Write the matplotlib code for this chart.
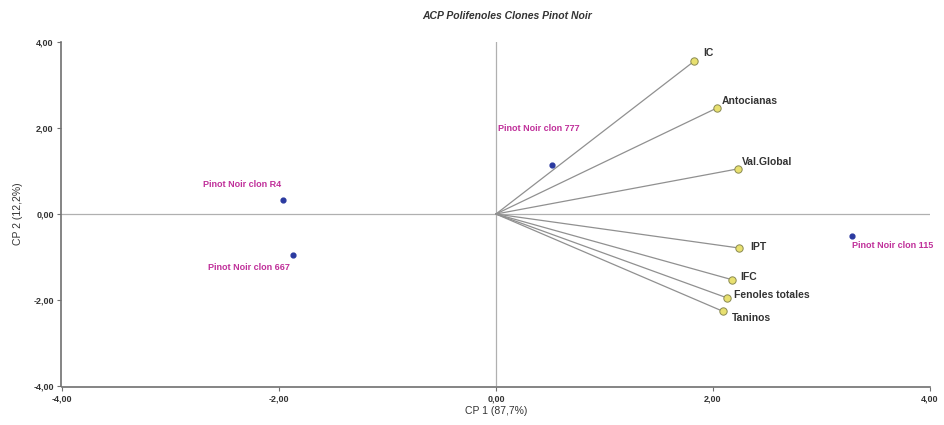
import matplotlib
matplotlib.use("Agg")
import matplotlib.pyplot as plt

# Variable loadings (vectors)
var_names = ["IC", "Antocianas", "Val.Global", "IPT", "IFC", "Fenoles totales", "Taninos"]
var_x = [1.83, 2.04, 2.23, 2.24, 2.18, 2.13, 2.09]
var_y = [3.56, 2.47, 1.05, -0.79, -1.53, -1.95, -2.26]

# Clone scores
clone_names = ["Pinot Noir clon 777", "Pinot Noir clon R4", "Pinot Noir clon 667", "Pinot Noir clon 115"]
clone_x = [0.52, -1.96, -1.87, 3.28]
clone_y = [1.14, 0.33, -0.95, -0.51]

ticks = [-4, -2, 0, 2, 4]
tick_labels = ["-4,00", "-2,00", "0,00", "2,00", "4,00"]

plt.rcParams['font.family'] = ['Liberation Sans', 'DejaVu Sans']
fig = plt.figure(figsize=(9.44, 4.25), dpi=100)
ax = fig.add_axes([0.0657, 0.0918, 0.9193, 0.8092])
ax.set_xlim(-4, 4)
ax.set_ylim(-4, 4)

ax.axhline(0, color="#b0b0b0", lw=0.9, zorder=1)
ax.axvline(0, color="#b0b0b0", lw=0.9, zorder=1)

for x, y in zip(var_x, var_y):
    ax.plot([0, x], [0, y], color="#909090", lw=0.9, zorder=2)
ax.scatter(var_x, var_y, s=28, facecolor="#e8e070", edgecolor="#8a8a50", linewidth=0.7, zorder=3)

var_offsets = [(6, 6), (3, 5), (3, 5), (8, 1), (6, 2), (5, 2), (7, -5)]
for n, x, y, off in zip(var_names, var_x, var_y, var_offsets):
    ax.annotate(n, (x, y), xytext=off, textcoords="offset points", fontsize=7.5,
                fontweight="bold", color="#333333", ha="left", va="center")

ax.scatter(clone_x, clone_y, s=12, color="#2b3aa0", zorder=3)
clone_offsets = [(-10, 26), (-30, 11), (-32, -9), (0, -7)]
clone_ha = ["center", "center", "center", "left"]
for n, x, y, off, ha in zip(clone_names, clone_x, clone_y, clone_offsets, clone_ha):
    ax.annotate(n, (x, y), xytext=off, textcoords="offset points", fontsize=6.5,
                fontweight="bold", color="#c0309a", ha=ha, va="center")

for s in ["top", "right"]:
    ax.spines[s].set_visible(False)
for s in ["left", "bottom"]:
    ax.spines[s].set_color("#707070")
    ax.spines[s].set_linewidth(1.2)
ax.spines["left"].set_position(("outward", 1))
ax.spines["bottom"].set_position(("outward", 1))

ax.set_xticks(ticks)
ax.set_xticklabels(tick_labels)
ax.set_yticks(ticks)
ax.set_yticklabels(tick_labels)
ax.tick_params(labelsize=6.5, length=3, color="#707070", width=0.8, pad=2)
for lab in ax.get_xticklabels() + ax.get_yticklabels():
    lab.set_fontweight("bold")
    lab.set_color("#333333")

ax.set_xlabel("CP 1 (87,7%)", fontsize=7.5, color="#333333", labelpad=2)
ax.set_ylabel("CP 2 (12,2%)", fontsize=7.5, color="#333333", labelpad=7)
fig.text(0.537, 0.962, "ACP Polifenoles Clones Pinot Noir", fontsize=7.5, style="italic",
         fontweight="bold", color="#333333", ha="center", va="center")

fig.savefig("out.png", dpi=100)
